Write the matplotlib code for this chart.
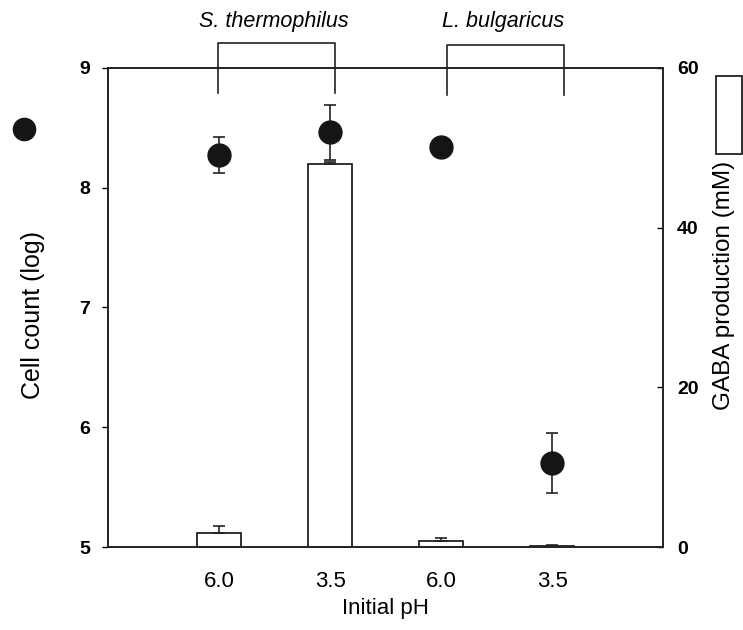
import matplotlib
matplotlib.use("Agg")
import matplotlib.pyplot as plt
from matplotlib.patches import Rectangle
from matplotlib.lines import Line2D
import matplotlib.transforms as mtransforms

plt.rcParams['font.family'] = ['Liberation Sans', 'DejaVu Sans']

# ---- data ----
ph_labels = ["6.0", "3.5", "6.0", "3.5"]
strains = ["S. thermophilus", "L. bulgaricus"]
cell_count = [8.27, 8.46, 8.34, 5.70]
cell_err = [0.15, 0.23, 0.03, 0.25]
gaba = [1.8, 48.0, 0.8, 0.15]
gaba_err = [0.85, 0.2, 0.4, 0.1]

positions = [1, 2, 3, 4]
dark = "#151515"

fig = plt.figure(figsize=(7.43, 6.30), dpi=100)
ax = fig.add_axes([108.3 / 743, 1 - 547.3 / 630, 554.7 / 743, 479.6 / 630])
ax2 = ax.twinx()
ax.set_zorder(ax2.get_zorder() + 1)
ax.patch.set_visible(False)

# bars (GABA, right axis)
ax2.bar(positions, gaba, width=0.4, color="white", edgecolor="#222222",
        linewidth=1.3, zorder=2)
ax2.errorbar(positions, gaba, yerr=[[0] * 4, gaba_err], fmt="none",
             ecolor="#222222", elinewidth=1.2, capsize=4.5, capthick=1.2,
             zorder=3)
ax2.set_ylim(0, 60)
ax2.set_yticks([0, 20, 40, 60])

# circles (cell count, left axis)
ax.errorbar(positions, cell_count, yerr=cell_err, fmt="o", color=dark,
            markersize=16.5, ecolor="#222222", elinewidth=1.2, capsize=4.5,
            capthick=1.2, zorder=4)
ax.set_ylim(5, 9)
ax.set_yticks([5, 6, 7, 8, 9])
ax.set_xlim(0, 5)
ax.set_xticks(positions)
ax.set_xticklabels(ph_labels, fontsize=16)

for a in (ax, ax2):
    for s in a.spines.values():
        s.set_linewidth(1.2)
        s.set_color("#222222")

ax.tick_params(axis="x", length=0, pad=17)
ax.tick_params(axis="y", direction="out", length=4, width=1, pad=9,
               labelsize=14)
ax2.tick_params(axis="y", direction="in", length=4, width=1, pad=10,
                labelsize=14)
for lab in ax.get_yticklabels() + ax2.get_yticklabels():
    lab.set_fontweight("bold")

ax.set_ylabel("Cell count (log)", fontsize=18, va="center")
ax.yaxis.set_label_coords(-0.136, 0.484)
ax2.set_ylabel("GABA production (mM)", fontsize=17.5, va="center",
               rotation=90)
ax2.yaxis.set_label_coords(1.11, 0.545)
ax.set_xlabel("Initial pH", fontsize=16)
ax.xaxis.set_label_coords(0.5, -0.106)

# brackets with strain names above plot
trans = mtransforms.blended_transform_factory(ax.transData, ax.transAxes)
brackets = [(0.986, 2.043, 1.052, 0.947), (3.05, 4.11, 1.047, 0.943)]
for (x0, x1, ytop, ybot), name in zip(brackets, strains):
    ax.add_line(Line2D([x0, x0, x1, x1], [ybot, ytop, ytop, ybot],
                       transform=trans, color="#222222", lw=1.2,
                       clip_on=False))
    ax.text((x0 + x1) / 2 - 0.02, 1.096, name, transform=trans,
            ha="center", va="center", fontsize=15.5, style="italic")

# legend symbols
fig.add_artist(Line2D([24 / 743], [1 - 129.5 / 630], marker="o",
                      markersize=16, color=dark, linestyle="none",
                      transform=fig.transFigure))
fig.add_artist(Rectangle((716 / 743, 1 - 154 / 630), 26 / 743, 78 / 630,
                         transform=fig.transFigure, facecolor="white",
                         edgecolor="#222222", linewidth=1.3))

fig.savefig("out.png", dpi=100)
